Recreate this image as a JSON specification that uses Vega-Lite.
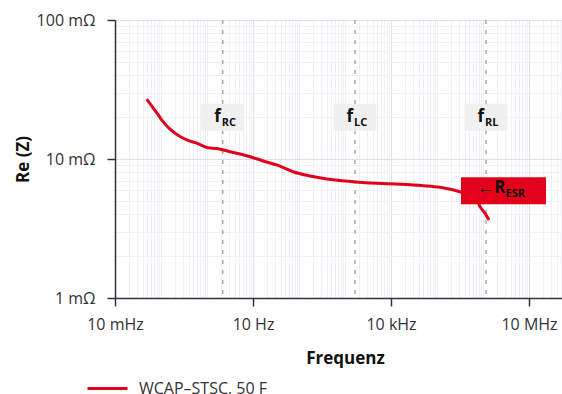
{
  "$schema": "https://vega.github.io/schema/vega-lite/v6.json",
  "autosize": {"type": "none"},
  "padding": {"left": 115, "top": 20, "right": 0, "bottom": 96},
  "width": 447,
  "height": 278,
  "background": "white",
  "config": {
    "view": {"stroke": null},
    "font": "Open Sans"
  },
  "datasets": {
    "curve": [
      {"f": 0.0489, "r": 27.0, "series": "WCAP–STSC, 50 F"},
      {"f": 0.0808, "r": 21.5, "series": "WCAP–STSC, 50 F"},
      {"f": 0.112, "r": 18.5, "series": "WCAP–STSC, 50 F"},
      {"f": 0.157, "r": 16.4, "series": "WCAP–STSC, 50 F"},
      {"f": 0.259, "r": 14.5, "series": "WCAP–STSC, 50 F"},
      {"f": 0.386, "r": 13.6, "series": "WCAP–STSC, 50 F"},
      {"f": 0.597, "r": 13.0, "series": "WCAP–STSC, 50 F"},
      {"f": 1.05, "r": 12.06, "series": "WCAP–STSC, 50 F"},
      {"f": 1.63, "r": 11.9, "series": "WCAP–STSC, 50 F"},
      {"f": 3.16, "r": 11.29, "series": "WCAP–STSC, 50 F"},
      {"f": 7.3, "r": 10.56, "series": "WCAP–STSC, 50 F"},
      {"f": 16.7, "r": 9.68, "series": "WCAP–STSC, 50 F"},
      {"f": 32.7, "r": 9.06, "series": "WCAP–STSC, 50 F"},
      {"f": 74.1, "r": 8.1, "series": "WCAP–STSC, 50 F"},
      {"f": 173, "r": 7.55, "series": "WCAP–STSC, 50 F"},
      {"f": 400, "r": 7.18, "series": "WCAP–STSC, 50 F"},
      {"f": 1493, "r": 6.87, "series": "WCAP–STSC, 50 F"},
      {"f": 4887, "r": 6.68, "series": "WCAP–STSC, 50 F"},
      {"f": 15700, "r": 6.58, "series": "WCAP–STSC, 50 F"},
      {"f": 49640, "r": 6.43, "series": "WCAP–STSC, 50 F"},
      {"f": 116100, "r": 6.26, "series": "WCAP–STSC, 50 F"},
      {"f": 344400, "r": 5.76, "series": "WCAP–STSC, 50 F"},
      {"f": 521400, "r": 5.51, "series": "WCAP–STSC, 50 F"},
      {"f": 741000, "r": 5.07, "series": "WCAP–STSC, 50 F"},
      {"f": 861000, "r": 4.54, "series": "WCAP–STSC, 50 F"},
      {"f": 1105000, "r": 4.06, "series": "WCAP–STSC, 50 F"},
      {"f": 1350000, "r": 3.64, "series": "WCAP–STSC, 50 F"}
    ],
    "markers": [
      {"f": 2.2, "main": "f", "sub": "RC"},
      {"f": 1650, "main": "f", "sub": "LC"},
      {"f": 1160000, "main": "f", "sub": "RL"}
    ],
    "esr": [
      {"f": 2790000, "r": 5.9, "main": "←R", "sub": "ESR"}
    ]
  },
  "layer": [
    {
      "data": {"name": "markers"},
      "mark": {"type": "rule", "color": "#ababab", "strokeWidth": 1.5, "strokeDash": [4, 6]},
      "encoding": {
        "x": {
          "field": "f",
          "type": "quantitative",
          "scale": {"type": "log", "domain": [0.01, 52100000], "nice": false},
          "axis": {
            "values": [0.01,0.02,0.03,0.04,0.05,0.06,0.07,0.08,0.09,0.1,0.2,0.3,0.4,0.5,0.6,0.7,0.8,0.9,1,2,3,4,5,6,7,8,9,10,20,30,40,50,60,70,80,90,100,200,300,400,500,600,700,800,900,1000,2000,3000,4000,5000,6000,7000,8000,9000,10000,20000,30000,40000,50000,60000,70000,80000,90000,100000,200000,300000,400000,500000,600000,700000,800000,900000,1000000,2000000,3000000,4000000,5000000,6000000,7000000,8000000,9000000,10000000,20000000,30000000,40000000,50000000],
            "labelExpr": "datum.value == 0.01 ? '10 mHz' : datum.value == 10 ? '10 Hz' : datum.value == 10000 ? '10 kHz' : datum.value == 10000000 ? '10 MHz' : ''",
            "labelOverlap": false,
            "labelBound": false,
            "labelFlush": false,
            "labelFont": "Open Sans",
            "labelFontSize": 16,
            "labelColor": "#333333",
            "labelPadding": 10,
            "grid": true,
            "gridColor": {"condition": {"test": "datum.value == 10 || datum.value == 10000 || datum.value == 10000000", "value": "#dce0e7"}, "value": "#eef1f5"},
            "gridWidth": 1,
            "ticks": true,
            "tickSize": 8,
            "tickColor": "#2f333b",
            "tickWidth": 1.5,
            "tickOpacity": {"condition": {"test": "datum.value == 0.01 || datum.value == 10 || datum.value == 10000 || datum.value == 10000000", "value": 1}, "value": 0},
            "domainColor": "#2f333b",
            "domainWidth": 1.5,
            "title": "Frequenz",
            "titleFont": "Open Sans",
            "titleFontSize": 17,
            "titleFontWeight": "bold",
            "titleColor": "#111111",
            "titleX": 230,
            "titleY": 65,
            "titleAlign": "center",
            "titleBaseline": "alphabetic"
          }
        }
      }
    },
    {
      "data": {"name": "curve"},
      "mark": {"type": "line", "strokeWidth": 3, "interpolate": "monotone"},
      "encoding": {
        "x": {"field": "f", "type": "quantitative"},
        "y": {
          "field": "r",
          "type": "quantitative",
          "scale": {"type": "log", "domain": [1, 100], "nice": false},
          "axis": {
            "values": [1,2,3,4,5,6,7,8,9,10,20,30,40,50,60,70,80,90,100],
            "labelExpr": "datum.value == 1 ? '1 mΩ' : datum.value == 10 ? '10 mΩ' : datum.value == 100 ? '100 mΩ' : ''",
            "labelOverlap": false,
            "labelBound": false,
            "labelFlush": false,
            "labelFont": "Open Sans",
            "labelFontSize": 16,
            "labelColor": "#333333",
            "labelPadding": 12,
            "grid": true,
            "gridColor": {"condition": {"test": "datum.value == 10 || datum.value == 100", "value": "#dce0e7"}, "value": "#eef1f5"},
            "gridWidth": 1,
            "ticks": true,
            "tickSize": 8,
            "tickColor": "#2f333b",
            "tickWidth": 1.5,
            "tickOpacity": {"condition": {"test": "datum.value == 1 || datum.value == 10 || datum.value == 100", "value": 1}, "value": 0},
            "domainColor": "#2f333b",
            "domainWidth": 1.5,
            "title": "Re (Z)",
            "titleFont": "Open Sans",
            "titleFontSize": 17,
            "titleFontWeight": "bold",
            "titleColor": "#111111",
            "titleAngle": -90,
            "titleX": -87,
            "titleY": 139,
            "titleAlign": "center",
            "titleBaseline": "alphabetic"
          }
        },
        "color": {
          "field": "series",
          "type": "nominal",
          "scale": {"domain": ["WCAP–STSC, 50 F"], "range": ["#e2001a"]},
          "legend": {
            "orient": "none",
            "legendX": -29,
            "legendY": 347,
            "title": null,
            "symbolType": "stroke",
            "symbolSize": 1600,
            "symbolStrokeWidth": 3,
            "labelFont": "Open Sans",
            "labelFontSize": 16,
            "labelColor": "#333333",
            "labelOffset": 10,
            "padding": 0
          }
        }
      }
    },
    {
      "data": {"name": "markers"},
      "mark": {"type": "rect", "width": 43, "height": 27, "color": "#f0f0f0", "opacity": 1},
      "encoding": {"x": {"field": "f", "type": "quantitative"}, "y": {"datum": 20, "type": "quantitative"}}
    },
    {
      "data": {"name": "markers"},
      "mark": {"type": "text", "font": "Open Sans", "fontSize": 17, "fontWeight": "bold", "align": "right", "baseline": "alphabetic", "dx": -2, "dy": 5, "color": "#111111"},
      "encoding": {"x": {"field": "f", "type": "quantitative"}, "y": {"datum": 20, "type": "quantitative"}, "text": {"field": "main"}}
    },
    {
      "data": {"name": "markers"},
      "mark": {"type": "text", "font": "Open Sans", "fontSize": 11, "fontWeight": "bold", "align": "left", "baseline": "alphabetic", "dx": -1, "dy": 9, "color": "#111111"},
      "encoding": {"x": {"field": "f", "type": "quantitative"}, "y": {"datum": 20, "type": "quantitative"}, "text": {"field": "sub"}}
    },
    {
      "data": {"name": "esr"},
      "mark": {"type": "rect", "width": 85, "height": 27, "color": "#e2001a"},
      "encoding": {"x": {"field": "f", "type": "quantitative"}, "y": {"field": "r", "type": "quantitative"}}
    },
    {
      "data": {"name": "esr"},
      "mark": {"type": "text", "font": "Open Sans", "fontSize": 17, "fontWeight": "bold", "align": "right", "baseline": "alphabetic", "dx": 2, "dy": 2, "color": "#111111"},
      "encoding": {"x": {"field": "f", "type": "quantitative"}, "y": {"field": "r", "type": "quantitative"}, "text": {"field": "main"}}
    },
    {
      "data": {"name": "esr"},
      "mark": {"type": "text", "font": "Open Sans", "fontSize": 11, "fontWeight": "bold", "align": "left", "baseline": "alphabetic", "dx": 2, "dy": 6, "color": "#111111"},
      "encoding": {"x": {"field": "f", "type": "quantitative"}, "y": {"field": "r", "type": "quantitative"}, "text": {"field": "sub"}}
    }
  ]
}
